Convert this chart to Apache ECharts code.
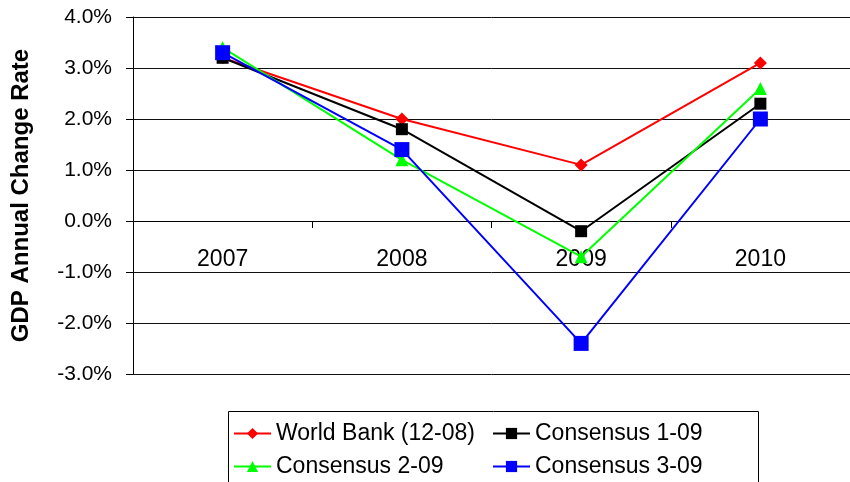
<!DOCTYPE html>
<html>
<head>
<meta charset="utf-8">
<script src="https://cdn.jsdelivr.net/npm/echarts@6/dist/echarts.min.js"></script>
<style>
    html, body { margin: 0; padding: 0; background: #fff; }
    #chart { width: 850px; height: 482px; }
</style>
</head>
<body>
<div id="chart"></div>
<script>
// 数据
var years = ['2007', '2008', '2009', '2010'];
var worldBank = [3.2, 2.0, 1.1, 3.1];
var consensus1 = [3.2, 1.8, -0.2, 2.3];
var consensus2 = [3.4, 1.2, -0.7, 2.6];
var consensus3 = [3.3, 1.4, -2.4, 2.0];
var yTicks = [-3, -2, -1, 0, 1, 2, 3, 4];
var names = ['World Bank (12-08)', 'Consensus 1-09', 'Consensus 2-09', 'Consensus 3-09'];

var FONT = 'Liberation Sans, Arial, sans-serif';
var GRID_TOP = 17, GRID_BOTTOM = 108, H = 482;

function line(name, data, color, symbol, size) {
    return {
        name: name,
        type: 'line',
        data: data,
        symbol: symbol,
        symbolSize: size,
        showAllSymbol: true,
        itemStyle: { color: color },
        lineStyle: { color: color, width: 2 },
        emphasis: { disabled: true }
    };
}

function legendCol(left, data) {
    return {
        orient: 'vertical',
        left: left,
        top: 422,
        padding: 0,
        itemWidth: 37,
        itemHeight: 14,
        itemGap: 10,
        data: data,
        textStyle: { fontFamily: FONT, fontSize: 23, color: '#000' }
    };
}

// x轴放在0线上: 用offset把轴整体上移
var yMin = yTicks[0], yMax = yTicks[yTicks.length - 1];
var plotH = H - GRID_TOP - GRID_BOTTOM;
var zeroOffset = -plotH * (0 - yMin) / (yMax - yMin);

var myChart = echarts.init(document.getElementById('chart'));

var option = {
    animation: false,
    backgroundColor: '#fff',
    grid: { left: 133, right: -8, top: GRID_TOP, bottom: GRID_BOTTOM, containLabel: false },
    // 图例外框
    graphic: [{
        type: 'rect',
        left: 226,
        top: 409,
        shape: { width: 530, height: 90 },
        style: { fill: 'none', stroke: '#000', lineWidth: 1 },
        silent: true
    }],
    legend: [
        legendCol(233, [names[0], names[2]]),
        legendCol(492, [names[1], names[3]])
    ],
    xAxis: {
        type: 'category',
        data: years,
        boundaryGap: true,
        offset: zeroOffset,
        axisLine: { onZero: false, lineStyle: { color: '#000', width: 1 } },
        axisTick: { show: true, length: 7, lineStyle: { color: '#000' } },
        axisLabel: { fontFamily: FONT, fontSize: 23, color: '#000', margin: 27 },
        splitLine: { show: false }
    },
    yAxis: {
        type: 'value',
        min: yMin,
        max: yMax,
        interval: 1,
        name: 'GDP Annual Change Rate',
        nameLocation: 'middle',
        nameRotate: 90,
        nameGap: 100,
        nameTextStyle: { fontFamily: FONT, fontSize: 24, fontWeight: 'bold', color: '#000' },
        axisLine: { show: true, lineStyle: { color: '#000', width: 1 } },
        axisTick: { show: true, length: 7, lineStyle: { color: '#000' } },
        axisLabel: {
            fontFamily: FONT, fontSize: 21, color: '#000', margin: 21,
            formatter: function (v) { return v.toFixed(1) + '%'; }
        },
        splitLine: { show: true, lineStyle: { color: '#111', width: 1 } }
    },
    series: [
        line(names[0], worldBank, '#ff0000', 'diamond', 13),
        line(names[1], consensus1, '#000000', 'rect', 12),
        line(names[2], consensus2, '#00ff00', 'triangle', 13),
        line(names[3], consensus3, '#0000ff', 'rect', 15)
    ]
};

myChart.setOption(option);
</script>
</body>
</html>
